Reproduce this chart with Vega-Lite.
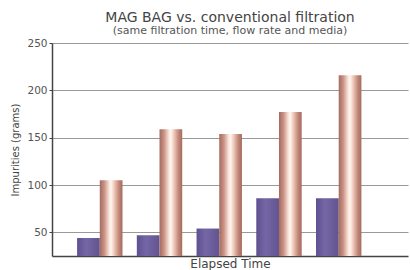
{
  "$schema": "https://vega.github.io/schema/vega-lite/v6.json",
  "width": 410,
  "height": 270,
  "autosize": {"type": "fit", "contains": "padding"},
  "padding": {"left": 10, "right": 2, "top": 11, "bottom": 1},
  "background": "white",
  "title": {
    "text": "MAG BAG vs. conventional filtration",
    "subtitle": "(same filtration time, flow rate and media)",
    "font": "DejaVu Sans",
    "fontSize": 14,
    "fontWeight": "normal",
    "color": "#444444",
    "subtitleFont": "DejaVu Sans",
    "subtitleFontSize": 11,
    "subtitleColor": "#555555",
    "subtitlePadding": 0,
    "offset": 2,
    "anchor": "middle"
  },
  "data": {
    "values": [
      {"time": "1", "method": "MAG BAG", "value": 44},
      {"time": "1", "method": "Conventional", "value": 105},
      {"time": "2", "method": "MAG BAG", "value": 47},
      {"time": "2", "method": "Conventional", "value": 159},
      {"time": "3", "method": "MAG BAG", "value": 54},
      {"time": "3", "method": "Conventional", "value": 154},
      {"time": "4", "method": "MAG BAG", "value": 86},
      {"time": "4", "method": "Conventional", "value": 177},
      {"time": "5", "method": "MAG BAG", "value": 86},
      {"time": "5", "method": "Conventional", "value": 216}
    ]
  },
  "encoding": {
    "x": {
      "field": "time",
      "type": "nominal",
      "scale": {"paddingInner": 0.24, "paddingOuter": 0.6, "align": 0.35},
      "axis": {
        "title": "Elapsed Time",
        "labels": false,
        "ticks": false,
        "domainColor": "#444444",
        "domainWidth": 1.5,
        "titleFont": "DejaVu Sans",
        "titleFontSize": 12,
        "titleFontWeight": "normal",
        "titleColor": "#444444",
        "titlePadding": 2
      }
    },
    "xOffset": {
      "field": "method",
      "type": "nominal",
      "scale": {"domain": ["MAG BAG", "Conventional"], "paddingInner": 0, "paddingOuter": 0}
    },
    "y": {
      "field": "value",
      "type": "quantitative",
      "scale": {"domain": [25, 250], "nice": false, "zero": false},
      "axis": {
        "title": "Impurities (grams)",
        "values": [50, 100, 150, 200, 250],
        "grid": true,
        "gridColor": "#999999",
        "gridWidth": 1,
        "domainColor": "#444444",
        "domainWidth": 1.5,
        "tickColor": "#444444",
        "tickSize": 3,
        "labelPadding": 2,
        "labelFont": "DejaVu Sans",
        "labelFontSize": 10.5,
        "labelColor": "#555555",
        "titleFont": "DejaVu Sans",
        "titleFontSize": 10,
        "titleFontWeight": "normal",
        "titleColor": "#444444",
        "titlePadding": 6
      }
    },
    "y2": {"datum": 25}
  },
  "layer": [
    {
      "transform": [{"filter": "datum.method === 'MAG BAG'"}],
      "mark": {
        "type": "bar",
        "color": {
          "gradient": "linear",
          "x1": 0, "x2": 1, "y1": 0, "y2": 0,
          "stops": [
            {"offset": 0, "color": "#5e5090"},
            {"offset": 0.4, "color": "#7566a6"},
            {"offset": 1, "color": "#62548f"}
          ]
        }
      }
    },
    {
      "transform": [{"filter": "datum.method === 'Conventional'"}],
      "mark": {
        "type": "bar",
        "color": {
          "gradient": "linear",
          "x1": 0, "x2": 1, "y1": 0, "y2": 0,
          "stops": [
            {"offset": 0, "color": "#a46b60"},
            {"offset": 0.2, "color": "#c99284"},
            {"offset": 0.42, "color": "#fbe6dd"},
            {"offset": 0.5, "color": "#fff6f0"},
            {"offset": 0.62, "color": "#f2cdbf"},
            {"offset": 0.85, "color": "#bf8576"},
            {"offset": 1, "color": "#a46b60"}
          ]
        }
      }
    }
  ],
  "config": {
    "view": {"stroke": null}
  }
}
